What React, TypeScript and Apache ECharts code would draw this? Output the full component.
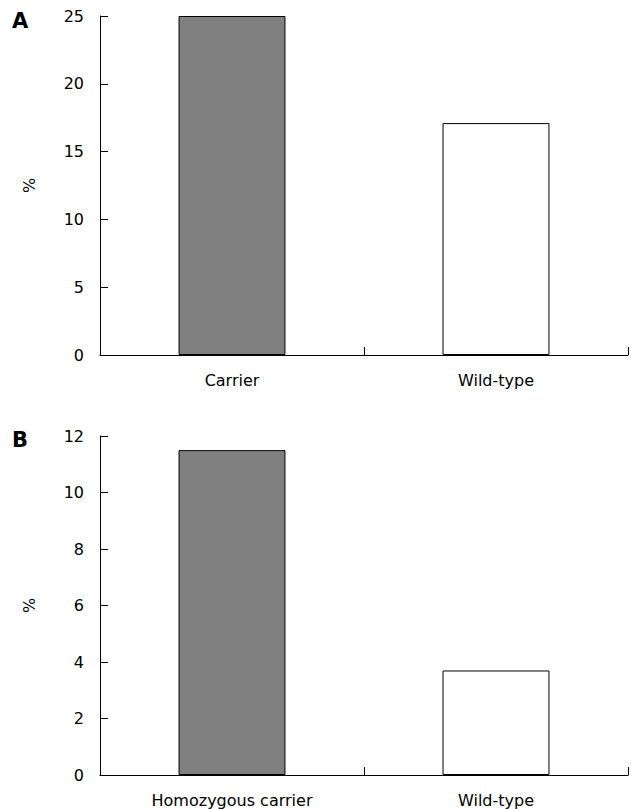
import React, { useEffect, useRef } from "react";
import * as echarts from "echarts";

const categoriesA = ["Carrier", "Wild-type"];
const valuesA = [25, 17.1];
const categoriesB = ["Homozygous carrier", "Wild-type"];
const valuesB = [11.5, 3.7];
const barColors = ["#808080", "#ffffff"];

const FONT = "DejaVu Sans, Tahoma, Verdana, sans-serif";

export default function App() {
  const ref = useRef<HTMLDivElement>(null);
  useEffect(() => {
    if (!ref.current) return;
    const chart = echarts.init(ref.current, null, { renderer: "svg" });
    const axisLine = { show: true, lineStyle: { color: "#000", width: 1 } };
    const xAxisCommon = (cats: string[], gridIndex: number) => ({
      type: "category" as const,
      gridIndex,
      data: cats,
      boundaryGap: true,
      axisLine,
      axisTick: { show: true, inside: true, length: 8, lineStyle: { color: "#000" } },
      axisLabel: { color: "#000", fontSize: 16, fontFamily: FONT, margin: 17 },
      splitLine: { show: false },
    });
    const yAxisCommon = (max: number, interval: number, gridIndex: number) => ({
      type: "value" as const,
      gridIndex,
      min: 0,
      max,
      interval,
      name: "%",
      nameLocation: "middle" as const,
      nameRotate: 90,
      nameGap: 63,
      nameTextStyle: { color: "#000", fontSize: 16, fontFamily: FONT },
      axisLine,
      axisTick: { show: true, inside: true, length: 8, lineStyle: { color: "#000" } },
      axisLabel: { color: "#000", fontSize: 16, fontFamily: FONT, margin: 16 },
      splitLine: { show: false },
    });
    const mkData = (vals: number[]) =>
      vals.map((v, i) => ({
        value: v,
        itemStyle: { color: barColors[i], borderColor: "#000", borderWidth: 1 },
      }));
    chart.setOption({
      animation: false,
      backgroundColor: "#fff",
      grid: [
        { left: 100, right: 3, top: 16, height: 339 },
        { left: 100, right: 3, top: 436, height: 339 },
      ],
      xAxis: [xAxisCommon(categoriesA, 0), xAxisCommon(categoriesB, 1)],
      yAxis: [yAxisCommon(25, 5, 0), yAxisCommon(12, 2, 1)],
      series: [
        { type: "bar", xAxisIndex: 0, yAxisIndex: 0, data: mkData(valuesA), barWidth: "40.5%" },
        { type: "bar", xAxisIndex: 1, yAxisIndex: 1, data: mkData(valuesB), barWidth: "40.5%" },
      ],
      graphic: [
        { type: "text", left: 12, top: 10, style: { text: "A", font: `bold 21px ${FONT}`, fill: "#000" } },
        { type: "text", left: 12, top: 429, style: { text: "B", font: `bold 21px ${FONT}`, fill: "#000" } },
      ],
    });
    return () => chart.dispose();
  }, []);
  return (
    <div
      ref={ref}
      style={{ position: "fixed", left: 0, top: 0, width: 631, height: 809 }}
    />
  );
}
